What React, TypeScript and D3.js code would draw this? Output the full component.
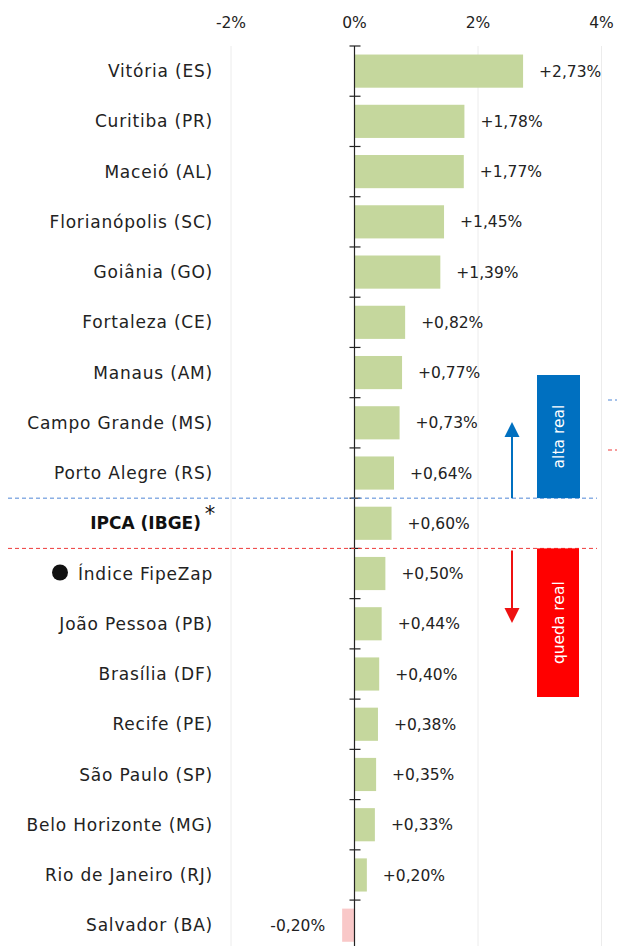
import React, { useEffect } from "react";
import * as d3 from "d3";

const categories = [
  "Vitória (ES)", "Curitiba (PR)", "Maceió (AL)", "Florianópolis (SC)", "Goiânia (GO)",
  "Fortaleza (CE)", "Manaus (AM)", "Campo Grande (MS)", "Porto Alegre (RS)", "IPCA (IBGE)",
  "Índice FipeZap", "João Pessoa (PB)", "Brasília (DF)", "Recife (PE)", "São Paulo (SP)",
  "Belo Horizonte (MG)", "Rio de Janeiro (RJ)", "Salvador (BA)",
];
const values = [2.73, 1.78, 1.77, 1.45, 1.39, 0.82, 0.77, 0.73, 0.64, 0.6, 0.5, 0.44, 0.4, 0.38, 0.35, 0.33, 0.2, -0.2];
const xTicks = [-2, 0, 2, 4];
const tickLabels = ["-2%", "0%", "2%", "4%"];
const annotationLabels = ["alta real", "queda real"];

const W = 617, H = 946;
const FONT = "'DejaVu Sans', sans-serif";

export default function App() {
  useEffect(() => { document.body.style.margin = "0"; }, []);
  const x = d3.scaleLinear().domain([-2, 4]).range([231, 601.5]);
  const y = d3.scaleBand<string>().domain(categories).range([46, 46 + 50.24 * categories.length]).paddingInner(0.34).paddingOuter(0.17);
  const step = y.step();
  const bandStart = (i: number) => 46 + i * step;
  const x0 = x(0);
  const fmt = (v: number) => (v > 0 ? "+" : "") + v.toFixed(2).replace(".", ",") + "%";
  const ipcaIdx = categories.indexOf("IPCA (IBGE)");
  const blueY = bandStart(ipcaIdx);
  const redY = bandStart(ipcaIdx + 1);
  const arrowX = 512;

  return (
    <svg width={W} height={H} style={{ display: "block", background: "#fff" }} fontFamily={FONT}>
      {xTicks.filter((t) => t !== 0).map((t) => (
        <line key={t} x1={x(t)} x2={x(t)} y1={46} y2={H} stroke="#ececec" strokeWidth={1} />
      ))}
      {xTicks.map((t, i) => (
        <text key={t} x={x(t)} y={28} textAnchor="middle" fontSize={15.5} fill="#222">{tickLabels[i]}</text>
      ))}
      {categories.map((c, i) => {
        const v = values[i];
        const x1 = Math.min(x(v), x0), x2 = Math.max(x(v), x0);
        return (
          <rect key={c} x={x1} y={y(c)!} width={x2 - x1} height={y.bandwidth()} fill={v >= 0 ? "#c5d79d" : "#f9c8c8"} />
        );
      })}
      <line x1={x0} x2={x0} y1={46} y2={H} stroke="#222" strokeWidth={1.2} />
      {categories.map((c, i) => (
        <line key={"t" + c} x1={x0 - 5} x2={x0 + 6} y1={bandStart(i)} y2={bandStart(i)} stroke="#222" strokeWidth={1.2} />
      ))}
      {categories.map((c, i) => {
        const cy = y(c)! + y.bandwidth() / 2;
        if (c === "IPCA (IBGE)") {
          return (
            <g key={"l" + c}>
              <text x={201} y={cy} dy="0.36em" textAnchor="end" fontSize={17} fontWeight="bold" fill="#111">{c}</text>
              <text x={210} y={cy - 2} textAnchor="middle" fontSize={21} fill="#111">*</text>
            </g>
          );
        }
        return (
          <g key={"l" + c}>
            {c === "Índice FipeZap" && <circle cx={60} cy={cy - 1} r={8} fill="#111" />}
            <text x={213} y={cy} dy="0.36em" textAnchor="end" fontSize={17} letterSpacing={0.8} fill="#222">{c}</text>
          </g>
        );
      })}
      {categories.map((c, i) => {
        const v = values[i];
        const cy = y(c)! + y.bandwidth() / 2;
        return (
          <text key={"v" + c} x={v >= 0 ? x(v) + 16 : x(v) - 17} y={cy} dy="0.36em" textAnchor={v >= 0 ? "start" : "end"} fontSize={15.5} fill="#222">{fmt(v)}</text>
        );
      })}
      <line x1={8} x2={597} y1={blueY} y2={blueY} stroke="#4f86d6" strokeWidth={1} strokeDasharray="4,3" />
      <line x1={8} x2={597} y1={redY} y2={redY} stroke="#ee3b3b" strokeWidth={1} strokeDasharray="4,3" />
      <line x1={608} x2={617} y1={400} y2={400} stroke="#4f86d6" strokeWidth={1} strokeDasharray="4,3" />
      <line x1={608} x2={617} y1={450} y2={450} stroke="#ee3b3b" strokeWidth={1} strokeDasharray="4,3" />
      <rect x={537} y={375} width={43} height={blueY - 375} fill="#0070c0" />
      <text transform={`translate(${558.5},${(375 + blueY) / 2}) rotate(-90)`} textAnchor="middle" dy="0.36em" fontSize={15.5} fill="#fff">{annotationLabels[0]}</text>
      <line x1={arrowX} x2={arrowX} y1={blueY} y2={436} stroke="#0070c0" strokeWidth={2} />
      <path d={`M${arrowX - 7.5},${437} L${arrowX},${422} L${arrowX + 7.5},${437} Z`} fill="#0070c0" />
      <rect x={537} y={redY} width={42} height={697 - redY} fill="#ff0000" />
      <text transform={`translate(${558},${(redY + 697) / 2}) rotate(-90)`} textAnchor="middle" dy="0.36em" fontSize={15.5} fill="#fff">{annotationLabels[1]}</text>
      <line x1={arrowX} x2={arrowX} y1={redY + 2} y2={609} stroke="#ee1111" strokeWidth={2} />
      <path d={`M${arrowX - 7.5},${608} L${arrowX},${623} L${arrowX + 7.5},${608} Z`} fill="#ee1111" />
    </svg>
  );
}
